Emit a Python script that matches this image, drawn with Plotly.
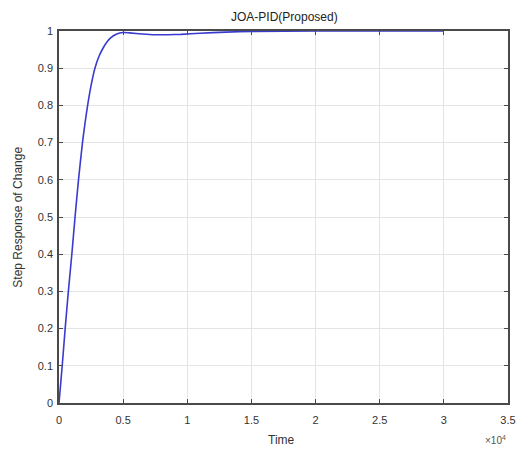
import plotly.graph_objects as go

# Closed-loop step response of the JOA-tuned PID controller
time = [0, 250, 480, 730, 1000, 1250, 1520, 1830, 2020, 2230, 2480, 2800,
        3120, 3450, 3750, 4000, 4500, 5000, 5500, 6500, 7500, 8500, 9500,
        11000, 13000, 15000, 20000, 25000, 30000]
response = [0, 0.1, 0.2, 0.3, 0.4, 0.5, 0.6, 0.7, 0.75, 0.8, 0.85, 0.9,
            0.932, 0.955, 0.971, 0.981, 0.992, 0.996, 0.995, 0.992, 0.99,
            0.99, 0.991, 0.994, 0.997, 0.999, 1.0, 1.0, 1.0]

x_tick_vals = [0, 5000, 10000, 15000, 20000, 25000, 30000, 35000]
x_tick_text = ["0", "0.5", "1", "1.5", "2", "2.5", "3", "3.5"]
y_tick_vals = [0, 0.1, 0.2, 0.3, 0.4, 0.5, 0.6, 0.7, 0.8, 0.9, 1.0]
y_tick_text = ["0", "0.1", "0.2", "0.3", "0.4", "0.5", "0.6", "0.7", "0.8", "0.9", "1"]

FONT = "Liberation Sans, Arial, sans-serif"

fig = go.Figure()
fig.add_trace(go.Scatter(
    x=time, y=response, mode="lines",
    line=dict(color="#3a3ad0", width=1.6, shape="spline", smoothing=0.6),
    showlegend=False,
))

axis_common = dict(
    showline=True, mirror="ticks", linecolor="#4a4a4a", linewidth=1.5,
    showgrid=True, gridcolor="#e4e4e4", gridwidth=1,
    ticks="inside", ticklen=4, tickcolor="#4a4a4a",
    zeroline=False, automargin=False,
    tickfont=dict(family=FONT, size=11, color="#333333"),
)

fig.update_layout(
    width=517, height=450,
    margin=dict(l=59, r=9, t=31, b=47),
    paper_bgcolor="white", plot_bgcolor="white",
    title=dict(text="JOA-PID(Proposed)", x=0.55, xanchor="center",
               y=0.962, yanchor="middle",
               font=dict(family=FONT, size=12, color="#222222")),
    xaxis=dict(range=[0, 35000], tickvals=x_tick_vals, ticktext=x_tick_text,
               ticklabelstandoff=6, **axis_common),
    yaxis=dict(range=[0, 1], tickvals=y_tick_vals, ticktext=y_tick_text,
               ticklabelstandoff=2, **axis_common),
    annotations=[
        dict(text="Time", xref="paper", yref="paper",
             x=0.495, y=-0.1, xanchor="center", yanchor="middle",
             showarrow=False,
             font=dict(family=FONT, size=12, color="#333333")),
        dict(text="Step Response of Change", xref="paper", yref="paper",
             x=-0.092, y=0.5, xanchor="center", yanchor="middle",
             textangle=-90, showarrow=False,
             font=dict(family=FONT, size=12, color="#333333")),
        dict(text="×10<sup>4</sup>", xref="paper", yref="paper",
             x=1.0, y=-0.1, xanchor="right", yanchor="middle",
             showarrow=False,
             font=dict(family=FONT, size=10, color="#555555")),
    ],
)

fig.write_html("out.html")
